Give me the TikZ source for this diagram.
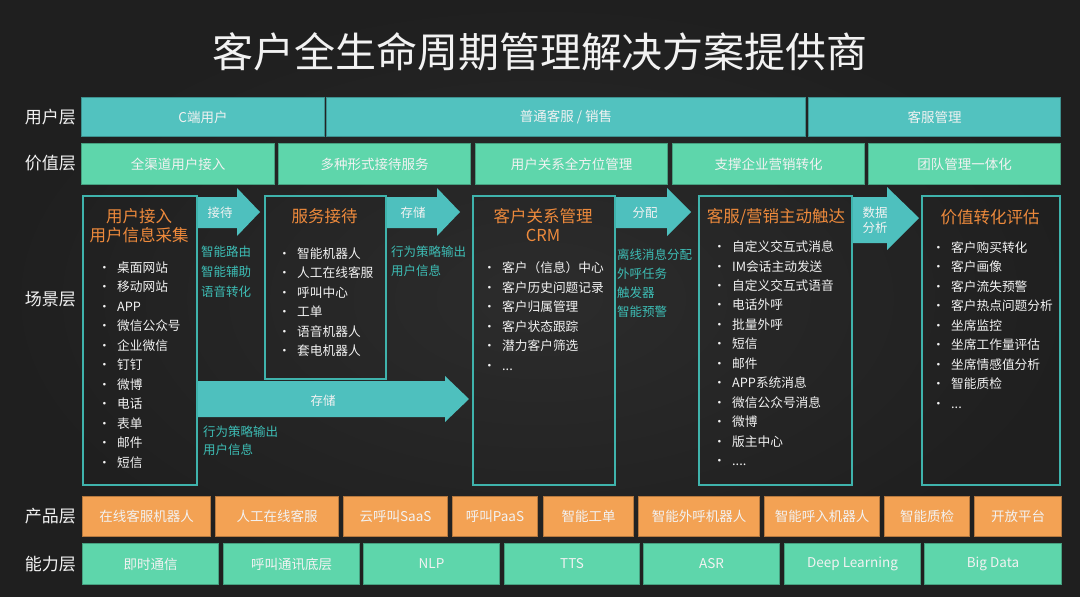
\documentclass[tikz,border=0pt]{standalone}
\usepackage{fontspec}
\setmainfont{Noto Sans CJK SC}
\usepackage{tikz}

\definecolor{bgdark}{HTML}{1F1F1F}
\definecolor{bglight}{HTML}{2C2C2C}
\definecolor{userteal}{HTML}{52C2BF}
\definecolor{valuegreen}{HTML}{5ED6AB}
\definecolor{prodorange}{HTML}{F3A254}
\definecolor{sceneline}{HTML}{3FB3AC}
\definecolor{arrowteal}{HTML}{4EC0BE}
\definecolor{titleorange}{HTML}{EE8A3C}
\definecolor{noteteal}{HTML}{3DBDB5}
\definecolor{textwhite}{HTML}{F2F2F2}

\tikzset{
  layerbox/.style = {line width = 1, inner sep = 0, anchor = north west, text = textwhite, font = \fontsize{13.5}{16}\selectfont},
  userbox/.style = {layerbox, fill = userteal, draw = userteal!75!black, minimum height = 39},
  valuebox/.style = {layerbox, fill = valuegreen, draw = valuegreen!75!black, minimum height = 41},
  prodbox/.style = {layerbox, fill = prodorange, draw = prodorange!75!black, minimum height = 40},
  abilitybox/.style = {layerbox, fill = valuegreen, draw = valuegreen!75!black, minimum height = 41},
  layerlabel/.style = {anchor = east, inner sep = 0, text = textwhite, font = \fontsize{17}{20}\selectfont},
  scenebox/.style = {draw = sceneline, line width = 1.5, inner sep = 0, anchor = north west},
  scenetitle/.style = {text = titleorange, align = center, inner sep = 0, font = \fontsize{16.5}{19}\selectfont},
  itemlist/.style = {text = textwhite, align = left, inner sep = 0, anchor = north west, font = \fontsize{12.7}{19.5}\selectfont},
  notelist/.style = {text = noteteal, align = left, inner sep = 0, anchor = north west, font = \fontsize{12.5}{19.5}\selectfont},
  arrowtext/.style = {text = textwhite, align = center, inner sep = 0, font = \fontsize{12.5}{15}\selectfont},
}
\newcommand{\bulletitem}[1]{\makebox[19pt][l]{•}#1}

\begin{document}
\begin{tikzpicture}[x = 1pt, y = -1pt]
\useasboundingbox (0, 0) rectangle (1080, 597);
\shade [inner color = bglight, outer color = bgdark] (0, 0) rectangle (1080, 597);

\node [text = textwhite, font = \fontsize{41}{45}\selectfont] (title) at (540, 52) {客户全生命周期管理解决方案提供商};

% layer labels
\node [layerlabel] (lbl-user) at (76, 117) {用户层};
\node [layerlabel] (lbl-value) at (76, 163) {价值层};
\node [layerlabel] (lbl-scene) at (76, 299) {场景层};
\node [layerlabel] (lbl-prod) at (76, 516) {产品层};
\node [layerlabel] (lbl-ability) at (76, 564) {能力层};

% user layer
\node [userbox, minimum width = 243] (u1) at (81, 97) {C端用户};
\node [userbox, minimum width = 479] (u2) at (326, 97) {普通客服 / 销售};
\node [userbox, minimum width = 252] (u3) at (808, 97) {客服管理};

% value layer
\node [valuebox, minimum width = 193] (v1) at (81, 143) {全渠道用户接入};
\node [valuebox, minimum width = 192] (v2) at (278, 143) {多种形式接待服务};
\node [valuebox, minimum width = 192] (v3) at (475, 143) {用户关系全方位管理};
\node [valuebox, minimum width = 192] (v4) at (672, 143) {支撑企业营销转化};
\node [valuebox, minimum width = 192] (v5) at (868, 143) {团队管理一体化};

% scene layer: arrows
\fill [arrowteal] (196, 197) -- (237, 197) -- (237, 188) -- (260, 212) -- (237, 236) -- (237, 228) -- (196, 228) -- cycle;
\fill [arrowteal] (385, 197) -- (437, 197) -- (437, 188) -- (460, 212) -- (437, 236) -- (437, 228) -- (385, 228) -- cycle;
\fill [arrowteal] (614, 197) -- (667, 197) -- (667, 188) -- (691, 212) -- (667, 236) -- (667, 228) -- (614, 228) -- cycle;
\fill [arrowteal] (851, 197) -- (887, 197) -- (887, 187) -- (919, 218) -- (887, 250) -- (887, 243) -- (851, 243) -- cycle;
\fill [arrowteal] (196, 381) -- (445, 381) -- (445, 376) -- (469, 399) -- (445, 422) -- (445, 417) -- (196, 417) -- cycle;
\node [arrowtext] (a-receive) at (220, 213) {接待};
\node [arrowtext] (a-store1) at (413, 213) {存储};
\node [arrowtext] (a-assign) at (645, 213) {分配};
\node [arrowtext] (a-data) at (875, 220) {数据\\分析};
\node [arrowtext] (a-store2) at (323, 401) {存储};

% scene layer: boxes
\node [scenebox, minimum width = 114, minimum height = 289] (access) at (82, 195) {};
\node [scenebox, minimum width = 121, minimum height = 183] (serve) at (264, 195) {};
\node [scenebox, minimum width = 142, minimum height = 289] (crm) at (472, 195) {};
\node [scenebox, minimum width = 153, minimum height = 289] (reach) at (698, 195) {};
\node [scenebox, minimum width = 138, minimum height = 289] (assess) at (921, 195) {};

\node [scenetitle] (access-title) at (139, 225.5) {用户接入\\用户信息采集};
\node [scenetitle] (serve-title) at (324.5, 216) {服务接待};
\node [scenetitle] (crm-title) at (543, 225) {客户关系管理\\CRM};
\node [scenetitle] (reach-title) at (776, 217) {客服/营销主动触达};
\node [scenetitle] (assess-title) at (990, 217) {价值转化评估};

\node [itemlist] (access-list) at (98, 261.5) {\bulletitem{桌面网站}\\\bulletitem{移动网站}\\\bulletitem{APP}\\\bulletitem{微信公众号}\\\bulletitem{企业微信}\\\bulletitem{钉钉}\\\bulletitem{微博}\\\bulletitem{电话}\\\bulletitem{表单}\\\bulletitem{邮件}\\\bulletitem{短信}};
\node [itemlist] (serve-list) at (278, 247.5) {\bulletitem{智能机器人}\\\bulletitem{人工在线客服}\\\bulletitem{呼叫中心}\\\bulletitem{工单}\\\bulletitem{语音机器人}\\\bulletitem{套电机器人}};
\node [itemlist] (crm-list) at (483, 261.5) {\bulletitem{客户（信息）中心}\\\bulletitem{客户历史问题记录}\\\bulletitem{客户归属管理}\\\bulletitem{客户状态跟踪}\\\bulletitem{潜力客户筛选}\\\bulletitem{...}};
\node [itemlist] (reach-list) at (713, 240.5) {\bulletitem{自定义交互式消息}\\\bulletitem{IM会话主动发送}\\\bulletitem{自定义交互式语音}\\\bulletitem{电话外呼}\\\bulletitem{批量外呼}\\\bulletitem{短信}\\\bulletitem{邮件}\\\bulletitem{APP系统消息}\\\bulletitem{微信公众号消息}\\\bulletitem{微博}\\\bulletitem{版主中心}\\\bulletitem{....}};
\node [itemlist] (assess-list) at (932, 241.5) {\bulletitem{客户购买转化}\\\bulletitem{客户画像}\\\bulletitem{客户流失预警}\\\bulletitem{客户热点问题分析}\\\bulletitem{坐席监控}\\\bulletitem{坐席工作量评估}\\\bulletitem{坐席情感值分析}\\\bulletitem{智能质检}\\\bulletitem{...}};

% notes beside the arrows
\node [notelist, font = \fontsize{12.5}{20}\selectfont] (receive-note) at (201, 245.7) {智能路由\\智能辅助\\语音转化};
\node [notelist, font = \fontsize{12.5}{19}\selectfont] (store1-note) at (391, 245.7) {行为策略输出\\用户信息};
\node [notelist, font = \fontsize{12.5}{18.5}\selectfont] (store2-note) at (203, 425.7) {行为策略输出\\用户信息};
\node [notelist, font = \fontsize{12.5}{19}\selectfont] (assign-note) at (617, 248.7) {离线消息分配\\外呼任务\\触发器\\智能预警};

% product layer
\node [prodbox, minimum width = 128] (p1) at (82, 496) {在线客服机器人};
\node [prodbox, minimum width = 123] (p2) at (215, 496) {人工在线客服};
\node [prodbox, minimum width = 104] (p3) at (343, 496) {云呼叫SaaS};
\node [prodbox, minimum width = 85] (p4) at (452, 496) {呼叫PaaS};
\node [prodbox, minimum width = 90] (p5) at (543, 496) {智能工单};
\node [prodbox, minimum width = 121] (p6) at (638, 496) {智能外呼机器人};
\node [prodbox, minimum width = 115] (p7) at (764, 496) {智能呼入机器人};
\node [prodbox, minimum width = 85] (p8) at (884, 496) {智能质检};
\node [prodbox, minimum width = 87] (p9) at (974, 496) {开放平台};

% ability layer
\node [abilitybox, minimum width = 136] (c1) at (82, 543) {即时通信};
\node [abilitybox, minimum width = 136] (c2) at (223, 543) {呼叫通讯底层};
\node [abilitybox, minimum width = 136] (c3) at (363, 543) {NLP};
\node [abilitybox, minimum width = 135] (c4) at (504, 543) {TTS};
\node [abilitybox, minimum width = 136] (c5) at (643, 543) {ASR};
\node [abilitybox, minimum width = 136] (c6) at (784, 543) {Deep Learning};
\node [abilitybox, minimum width = 137] (c7) at (924, 543) {Big Data};

\end{tikzpicture}
\end{document}
